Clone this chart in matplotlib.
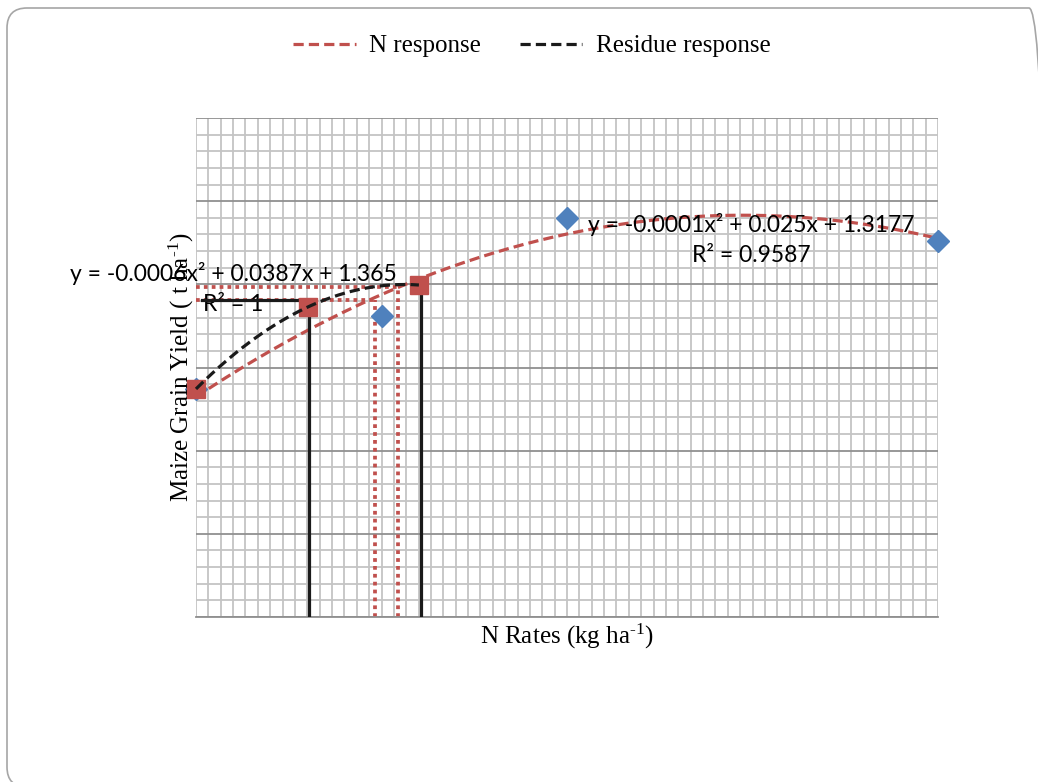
import numpy as np
import matplotlib
matplotlib.use("Agg")
import matplotlib.pyplot as plt
from matplotlib.patches import FancyBboxPatch
from matplotlib.ticker import MultipleLocator
from matplotlib.lines import Line2D

# ---- data ----
n_rates = [0, 60, 120, 240]                 # kg ha-1
n_yield = [1.371, 1.81, 2.399, 2.26]        # t ha-1
res_rates = [0, 36.2, 72.1]
res_yield = [1.371, 1.864, 1.996]

# guide lines (x position, height)
black_guide_x = [36.7, 72.8]
black_guide_y = [1.876, 1.97]
red_guide_x = [57.9, 65.3]
red_guide_y = [1.906, 1.984]
black_hline_y = 1.906
black_hline_x = [1.9, 37.0]

eq_res = "y = -0.0006x² + 0.0387x + 1.365"
r2_res = "R² = 1"
eq_n = "y = -0.0001x² + 0.025x + 1.3177"
r2_n = "R² = 0.9587"

RED = "#c0504d"
BLUE = "#4f81bd"
BLK = "#1a1a1a"

plt.rcParams["mathtext.fontset"] = "custom"
plt.rcParams["mathtext.rm"] = "Liberation Serif"
plt.rcParams["mathtext.it"] = "Liberation Serif:italic"

fig = plt.figure(figsize=(10.38, 7.82), dpi=100)
ax = fig.add_axes([196/1038, 1-617/782, (938-196)/1038, (617-118)/782])

ax.set_xlim(0, 240)
ax.set_ylim(0, 3)
ax.xaxis.set_major_locator(MultipleLocator(4))
ax.yaxis.set_major_locator(MultipleLocator(0.5))
ax.yaxis.set_minor_locator(MultipleLocator(0.1))
ax.grid(which="major", axis="x", color="#c4c4c4", lw=1.3)
ax.grid(which="minor", axis="y", color="#c4c4c4", lw=1.3)
ax.grid(which="major", axis="y", color="#909090", lw=1.3)
ax.set_axisbelow(True)
ax.tick_params(which="both", length=0, labelbottom=False, labelleft=False)
for s in ["top", "right", "left"]:
    ax.spines[s].set_visible(False)
ax.spines["bottom"].set_color("#909090")
ax.spines["bottom"].set_linewidth(1.3)

DASH = (0, (3.2, 1.6))
DOT = (0, (1, 1.1))

# trendlines fitted from the data
cn = np.polyfit(n_rates, n_yield, 2)
xn = np.linspace(min(n_rates), max(n_rates), 300)
ax.plot(xn, np.polyval(cn, xn), color=RED, lw=2.3, ls=DASH, zorder=3, clip_on=False)
cr = np.polyfit(res_rates, res_yield, 2)
xr = np.linspace(min(res_rates), max(res_rates), 200)

# guide lines
for x, y in zip(red_guide_x, red_guide_y):
    ax.plot([x, x], [0, y], color=RED, lw=2.7, ls=DOT, zorder=2)
    ax.plot([0, x], [y, y], color=RED, lw=2.7, ls=DOT, zorder=2)
for x, y in zip(black_guide_x, black_guide_y):
    ax.plot([x, x], [0, y], color=BLK, lw=2.3, zorder=4, solid_capstyle="butt")
ax.plot(black_hline_x, [black_hline_y]*2, color=BLK, lw=2.3, zorder=4)

ax.plot(n_rates, n_yield, ls="none", marker="D", ms=11, color=BLUE, zorder=5, clip_on=False)
ax.plot(res_rates, res_yield, ls="none", marker="s", ms=13, color=RED, zorder=5, clip_on=False)
ax.plot(xr, np.polyval(cr, xr), color=BLK, lw=2.3, ls=DASH, zorder=6, clip_on=False)

# equation labels
FS_EQ = 16.5
ax.text(11.97, 2.064, eq_res, ha="center", va="center", fontsize=FS_EQ,
        family="Lato", color="#000000", zorder=7)
ax.text(11.97, 1.876, r2_res, ha="center", va="center", fontsize=FS_EQ,
        family="Lato", color="#000000", zorder=3)
ax.text(179.5, 2.357, eq_n, ha="center", va="center", fontsize=FS_EQ,
        family="Lato", color="#000000", zorder=7)
ax.text(179.5, 2.175, r2_n, ha="center", va="center", fontsize=FS_EQ,
        family="Lato", color="#000000", zorder=7)

# axis titles
fig.text(181/1038, 1-367/782, r"Maize Grain Yield ( t ha$^{\text{-1}}$)", rotation=90,
         ha="center", va="center", fontsize=18, family="Liberation Serif", zorder=1)
fig.text(567/1038, 1-636/782, r"N Rates (kg ha$^{\text{-1}}$)",
         ha="center", va="center", fontsize=18, family="Liberation Serif")

handles = [Line2D([], [], color=RED, lw=2.3, ls=DASH),
           Line2D([], [], color=BLK, lw=2.3, ls=DASH)]
fig.legend(handles, ["N response", "Residue response"], loc="center",
           bbox_to_anchor=(532/1038, 1-46/782), ncol=2, frameon=False,
           prop={"family": "Liberation Serif", "size": 18},
           handlelength=2.5, columnspacing=1.55, handletextpad=0.55)

# rounded frame
frame = FancyBboxPatch((0.07, -0.05), 10.42, 7.79,
                       boxstyle="round,pad=0,rounding_size=0.2", transform=fig.dpi_scale_trans,
                       fill=False, edgecolor="#a6a6a6", lw=1.2)
fig.add_artist(frame)

fig.savefig("out.png", dpi=100)
